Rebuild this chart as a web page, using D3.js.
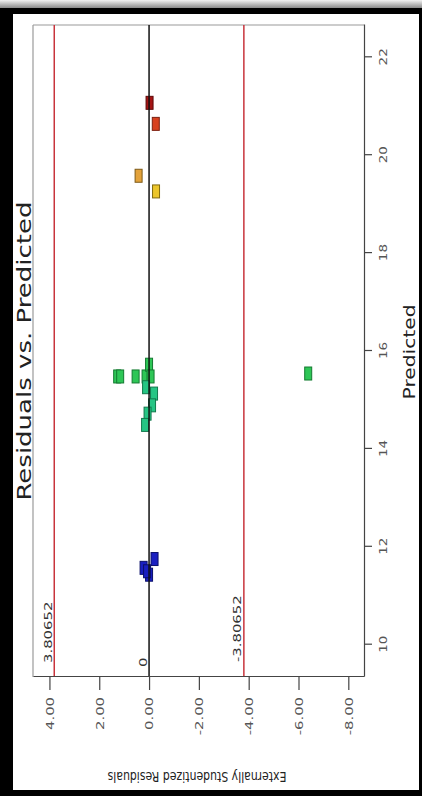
<!DOCTYPE html>
<html>
<head>
<meta charset="utf-8">
<script src="https://cdn.jsdelivr.net/npm/d3@7"></script>
<style>
  html, body { margin: 0; padding: 0; background: #fff; }
  svg { display: block; font-family: "DejaVu Sans", sans-serif; }
</style>
</head>
<body>
<svg id="chart" width="422" height="796"></svg>
<script>
// Residuals vs. Predicted diagnostic (page turned a quarter turn counter-clockwise)
const predicted = [21.07, 20.64, 19.58, 19.26,
                   15.48, 15.48, 15.48, 15.48, 15.72, 15.48,
                   15.26, 15.13, 14.89, 14.72, 14.49, 15.54,
                   11.57, 11.75, 11.43, 11.50];
const residuals = [-0.02, -0.27, 0.42, -0.28,
                   1.28, 1.16, 0.54, 0.14, 0.00, -0.06,
                   0.12, -0.20, -0.12, 0.06, 0.16, -6.39,
                   0.22, -0.22, 0.00, 0.08];
const responseBand = ["r5", "r4", "r3", "r2",
                      "g1", "g1", "g1", "g1", "g1", "g1",
                      "g2", "g2", "g2", "g2", "g2", "g1",
                      "b1", "b1", "b1", "b1"];
const bandKeys = ["r5", "r4", "r3", "r2", "g1", "g2", "b1"];
const bandFill = ["#a51414", "#d8411f", "#e3a23a", "#ecc62c", "#2ec656", "#26c584", "#1a1fc0"];
const bandStroke = ["#5e0808", "#7d2010", "#7d5a18", "#806a10", "#137a30", "#12784c", "#0a0f6a"];

const predTicks = [10, 12, 14, 16, 18, 20, 22];
const residTicks = [4, 2, 0, -2, -4, -6, -8];
const predDomain = [9.34, 22.66];
const residDomain = [4.66, -8.63];
const limit = 3.80652;

const svg = d3.select("#chart");

// page frame
const defs = svg.append("defs");
const grad = defs.append("linearGradient").attr("id", "shade")
  .attr("x1", 0).attr("y1", 0).attr("x2", 0).attr("y2", 1);
grad.append("stop").attr("offset", "0%").attr("stop-color", "#f2f2f2");
grad.append("stop").attr("offset", "100%").attr("stop-color", "#8a8a8a");
svg.append("rect").attr("x", 0).attr("y", 0).attr("width", 422).attr("height", 8).attr("fill", "url(#shade)");
svg.append("rect").attr("x", 0).attr("y", 8).attr("width", 422).attr("height", 6).attr("fill", "#000");
svg.append("rect").attr("x", 0).attr("y", 8).attr("width", 13).attr("height", 788).attr("fill", "#000");
svg.append("rect").attr("x", 419).attr("y", 8).attr("width", 3).attr("height", 788).attr("fill", "#000");
svg.append("rect").attr("x", 0).attr("y", 790).attr("width", 422).attr("height", 6).attr("fill", "#000");

// plot drawn upright, then turned
const W = 652, H = 331;
const stretch = 1.35;
const x = d3.scaleLinear().domain(predDomain).range([0, W]);
const y = d3.scaleLinear().domain(residDomain).range([0, H]);
const color = d3.scaleOrdinal().domain(bandKeys).range(bandFill);
const edge = d3.scaleOrdinal().domain(bandKeys).range(bandStroke);

const g = svg.append("g").attr("transform", "translate(33,677) rotate(-90)");

// light frame edges
g.append("line").attr("x1", 0).attr("x2", W).attr("y1", 0).attr("y2", 0)
  .attr("stroke", "#9a9a9a").attr("stroke-width", 1.2);
g.append("line").attr("x1", W).attr("x2", W).attr("y1", 0).attr("y2", H)
  .attr("stroke", "#9a9a9a").attr("stroke-width", 1.2);

// limit lines
g.selectAll(".limit").data([limit, -limit]).join("line")
  .attr("class", "limit")
  .attr("x1", 0).attr("x2", W)
  .attr("y1", d => y(d)).attr("y2", d => y(d))
  .attr("stroke", "#c8343c").attr("stroke-width", 1.5);

// points
const pts = predicted.map((p, i) => ({p, r: residuals[i], b: responseBand[i]}));
const pw = 13, ph = 7;
g.selectAll(".pt").data(pts).join("rect")
  .attr("class", "pt")
  .attr("x", d => x(d.p) - pw / 2)
  .attr("y", d => y(d.r) - ph / 2)
  .attr("width", pw).attr("height", ph)
  .attr("fill", d => color(d.b))
  .attr("stroke", d => edge(d.b)).attr("stroke-width", 1);

// zero line
g.append("line").attr("x1", 0).attr("x2", W)
  .attr("y1", y(0)).attr("y2", y(0))
  .attr("stroke", "#111").attr("stroke-width", 1.5);

// line labels
const lineLabels = [
  {t: "3.80652", v: limit, u: 14},
  {t: "-3.80652", v: -limit, u: 15},
  {t: "0", v: 0, u: 10}
];
g.selectAll(".llab").data(lineLabels).join("text")
  .attr("class", "llab")
  .attr("transform", d => `translate(${d.u},${y(d.v) - 2.5}) scale(${stretch},1)`)
  .attr("font-size", 11).attr("fill", "#333")
  .text(d => d.t);

// predicted axis
const xAxis = g.append("g").attr("transform", `translate(0,${H})`)
  .call(d3.axisBottom(x).tickValues(predTicks).tickSize(8).tickSizeOuter(0));
xAxis.select(".domain").attr("stroke", "#444").attr("stroke-width", 1.2);
xAxis.selectAll(".tick line").attr("stroke", "#444").attr("stroke-width", 1.2);
xAxis.selectAll(".tick text")
  .attr("y", 23).attr("dy", 0)
  .attr("transform", `scale(${stretch},1)`)
  .attr("font-size", 10).attr("font-family", "DejaVu Sans").attr("fill", "#555");

// residual axis
const yAxis = g.append("g")
  .call(d3.axisLeft(y).tickValues(residTicks).tickSize(13).tickSizeOuter(0)
    .tickFormat(d => d.toFixed(2)));
yAxis.select(".domain").attr("stroke", "#444").attr("stroke-width", 1.2);
yAxis.selectAll(".tick line").attr("stroke", "#444").attr("stroke-width", 1.2);
yAxis.selectAll(".tick text")
  .attr("x", -20 / stretch).attr("dy", "0.35em")
  .attr("transform", `scale(${stretch},1)`)
  .attr("font-size", 11).attr("font-family", "DejaVu Sans").attr("fill", "#555");

// titles
g.append("text")
  .attr("transform", `translate(${W / 2},-2) scale(1.3,1)`)
  .attr("text-anchor", "middle").attr("font-size", 20).attr("fill", "#222")
  .text("Residuals vs. Predicted");

g.append("text")
  .attr("transform", `translate(${677 - 352},382) scale(${stretch},1)`)
  .attr("text-anchor", "middle").attr("font-size", 15).attr("fill", "#222")
  .text("Predicted");

g.append("text")
  .attr("transform", `translate(-95,164) rotate(-90) scale(0.78,1)`)
  .attr("text-anchor", "middle").attr("font-size", 14).attr("fill", "#222")
  .text("Externally Studentized Residuals");
</script>
</body>
</html>
